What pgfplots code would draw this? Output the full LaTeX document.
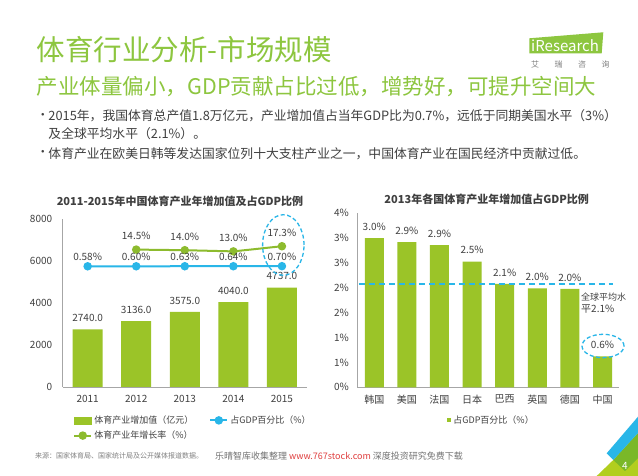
\documentclass[border=0pt]{standalone}
\usepackage{pgfplots}
\pgfplotsset{compat=1.18}
\usepackage{fontspec}
\setmainfont{Noto Sans CJK SC}
\definecolor{barGreen}{RGB}{155,196,40}
\definecolor{titleGreen}{RGB}{141,198,63}
\definecolor{lineBlue}{RGB}{41,182,232}
\definecolor{growthGreen}{RGB}{141,187,46}
\definecolor{textdark}{RGB}{64,64,64}
\definecolor{axisgray}{RGB}{166,166,166}
\definecolor{wmred}{RGB}{224,64,64}
\definecolor{cornerGreen}{RGB}{122,184,40}
\definecolor{cornerLight}{RGB}{178,206,30}
\begin{document}
\begin{tikzpicture}
\useasboundingbox (0,0) rectangle (638pt,476pt);
\fill[white] (0,0) rectangle (638pt,476pt);
\begin{scope}[x=1pt,y=1pt]
% header
\node[anchor=west,inner sep=0,text=titleGreen] at (36.7,426) {\fontsize{28.5}{30}\selectfont 体育行业分析-市场规模};
\node[anchor=west,inner sep=0,text=titleGreen] at (36.7,389.3) {\fontsize{21.5}{24}\selectfont 产业体量偏小，GDP贡献占比过低，增势好，可提升空间大};
\node[anchor=west,inner sep=0,text=textdark] at (36.5,360) {\fontsize{12.5}{14}\selectfont •};
\node[anchor=west,inner sep=0,text=textdark] at (48.3,360) {\fontsize{12.8}{14}\selectfont 2015年，我国体育总产值1.8万亿元，产业增加值占当年GDP比为0.7\%，远低于同期美国水平（3\%）};
\node[anchor=west,inner sep=0,text=textdark] at (48.3,342.7) {\fontsize{12.8}{14}\selectfont 及全球平均水平（2.1\%）。};
\node[anchor=west,inner sep=0,text=textdark] at (36.5,322.7) {\fontsize{12.5}{14}\selectfont •};
\node[anchor=west,inner sep=0,text=textdark] at (48.3,322.7) {\fontsize{12.8}{14}\selectfont 体育产业在欧美日韩等发达国家位列十大支柱产业之一，中国体育产业在国民经济中贡献过低。};
% logo
\fill[titleGreen] (529.3,437.7) -- (603.3,443.7) -- (601.7,422.7) -- (529.3,422.7) -- cycle;
\node[anchor=west,inner sep=0,text=white] at (531,430) {\fontsize{15}{17}\selectfont iResearch};
\node[anchor=west,inner sep=0,text=gray] at (531,411) {\fontsize{8}{9}\selectfont 艾\hspace{15.5pt}瑞\hspace{15.5pt}咨\hspace{15.5pt}询};
% titles of charts
\node[text=textdark,inner sep=0] at (180,274.3) {\fontsize{11}{13}\selectfont\bfseries 2011-2015年中国体育产业年增加值及占GDP比例};
\node[text=textdark,inner sep=0] at (486.7,277) {\fontsize{11}{13}\selectfont\bfseries 2013年各国体育产业年增加值占GDP比例};
% footer
\node[anchor=west,inner sep=0,text=gray] at (35,20) {\fontsize{7}{8}\selectfont 来源：国家体育局、国家统计局及公开媒体报道数据。};
\node[anchor=west,inner sep=0,text=gray!90!black] at (215,20) {\fontsize{9}{10}\selectfont 乐晴智库收集整理 \textcolor{wmred}{www.767stock.com} 深度投资研究免费下载};
% corner decoration
\fill[cornerLight] (596.7,0) -- (613.3,16) -- (638,43) -- (638,0) -- cycle;
\fill[cornerGreen] (613.3,16) -- (638,43) -- (638,18) -- (625,5) -- cycle;
\fill[lineBlue] (606.7,22.7) -- (638,59.3) -- (638,43) -- (613.3,16) -- cycle;
\node[text=white,inner sep=0] at (625,10) {\fontsize{10}{12}\selectfont 4};
\end{scope}

% left chart: bars
\begin{axis}[
  at={(62.7pt,89pt)}, anchor=south west,
  scale only axis, width=244pt, height=168pt,
  xmin=-0.514, xmax=4.51, ymin=0, ymax=8000,
  axis x line*=bottom, axis y line*=left,
  axis line style={draw=axisgray,-},
  xtick={0,1,2,3,4}, xticklabels={2011,2012,2013,2014,2015},
  ytick={0,2000,4000,6000,8000},
  major tick length=0pt,
  tick label style={font=\fontsize{10}{12}\selectfont, text=textdark},
  /pgf/number format/assume math mode=true,
  scaled y ticks=false,
  yticklabel style={/pgf/number format/1000 sep={}, xshift=-7pt},
  xticklabel style={yshift=-5pt},
]
\addplot[ybar, bar width=30pt, fill=barGreen, draw=none,
  nodes near coords={\pgfmathprintnumber[fixed,fixed zerofill,precision=1,1000 sep={}]{\pgfplotspointmeta}},
  every node near coord/.append style={font=\fontsize{10}{12}\selectfont, text=textdark, yshift=4pt}]
  coordinates {(0,2740) (1,3136) (2,3575) (3,4040) (4,4737)};
\end{axis}

% left chart: lines on secondary axis
\begin{axis}[
  at={(62.7pt,89pt)}, anchor=south west,
  scale only axis, width=244pt, height=168pt,
  xmin=-0.514, xmax=4.51, ymin=-100, ymax=40,
  hide axis,
  /pgf/number format/assume math mode=true,
  legend columns=2,
  legend cell align=left,
  legend style={draw=none, fill=none, at={(0.03,-0.244)}, anchor=west,
    font=\fontsize{9}{11}\selectfont, text=textdark,
    /tikz/every even column/.append style={column sep=14pt},
    row sep=2pt},
]
\addlegendimage{legend image code/.code={\fill[barGreen] (0cm,-0.12cm) rectangle (0.6cm,0.12cm);}}
\addlegendentry{体育产业增加值（亿元）}
\addplot[lineBlue, line width=2pt, mark=*, mark size=3.2pt, mark options={fill=lineBlue,draw=lineBlue}]
  coordinates {(0,0.58) (1,0.60) (2,0.63) (3,0.64) (4,0.70)};
\addlegendentry{占GDP百分比（\%）}
\addplot[growthGreen, line width=2pt, mark=*, mark size=3.2pt, mark options={fill=growthGreen,draw=growthGreen}]
  coordinates {(1,14.5) (2,14.0) (3,13.0) (4,17.3)};
\addlegendentry{体育产业年增长率（\%）}
% value labels, drawn on top of the lines
\addplot[draw=none, forget plot,
  nodes near coords={\pgfmathprintnumber[fixed,fixed zerofill,precision=2]{\pgfplotspointmeta}\%},
  every node near coord/.append style={font=\fontsize{10}{12}\selectfont, text=textdark, yshift=2pt}]
  coordinates {(0,0.58) (1,0.60) (2,0.63) (3,0.64) (4,0.70)};
\addplot[draw=none, forget plot,
  nodes near coords={\pgfmathprintnumber[fixed,fixed zerofill,precision=1]{\pgfplotspointmeta}\%},
  every node near coord/.append style={font=\fontsize{10}{12}\selectfont, text=textdark, yshift=6.4pt}]
  coordinates {(1,14.5) (2,14.0) (3,13.0) (4,17.3)};
\end{axis}

% right chart
\begin{axis}[
  at={(357.3pt,88.7pt)}, anchor=south west,
  scale only axis, width=261.5pt, height=174pt,
  xmin=-0.52, xmax=7.5, ymin=0, ymax=3.5,
  axis x line*=bottom, axis y line*=left,
  axis line style={draw=axisgray,-},
  xtick={0,1,2,3,4,5,6,7}, xticklabels={韩国,美国,法国,日本,巴西,英国,德国,中国},
  ytick={0,0.5,1,1.5,2,2.5,3,3.5},
  yticklabels={0\%,1\%,1\%,2\%,2\%,3\%,3\%,4\%},
  major tick length=0pt,
  tick label style={font=\fontsize{10}{12}\selectfont, text=textdark},
  /pgf/number format/assume math mode=true,
  yticklabel style={xshift=-5pt},
  xticklabel style={yshift=-4pt},
  legend style={draw=none, fill=none, at={(0.33,-0.188)}, anchor=west,
    font=\fontsize{9}{11}\selectfont, text=textdark},
  legend image code/.code={\fill[barGreen] (0pt,-2.3pt) rectangle (4.6pt,2.3pt);},
]
\addplot[ybar, bar width=19pt, fill=barGreen, draw=none,
  nodes near coords={\pgfmathprintnumber[fixed,fixed zerofill,precision=1]{\pgfplotspointmeta}\%},
  every node near coord/.append style={font=\fontsize{10}{12}\selectfont, text=textdark, yshift=4pt}]
  coordinates {(0,3.0) (1,2.92) (2,2.86) (3,2.53) (4,2.08) (5,1.99) (6,1.98) (7,0.62)};
\addlegendentry{占GDP百分比（\%）}
\addplot[lineBlue, line width=1.8pt, dash pattern=on 6.5pt off 3.5pt, forget plot]
  coordinates {(-0.47,2.08) (7.32,2.08)};
\end{axis}

\begin{scope}[x=1pt,y=1pt]
\draw[lineBlue, line width=1.3pt, dash pattern=on 4pt off 2.5pt] (283.3,231) ellipse [x radius=20.7pt, y radius=30.3pt];
\draw[lineBlue, line width=1.3pt, dash pattern=on 4pt off 2.5pt] (603,130) ellipse [x radius=21pt, y radius=11.7pt];
\node[anchor=west,align=left,inner sep=0,text=textdark] at (581,172.7) {\fontsize{9}{10.5}\selectfont 全球平均水\\平2.1\%};
\end{scope}
\end{tikzpicture}
\end{document}
